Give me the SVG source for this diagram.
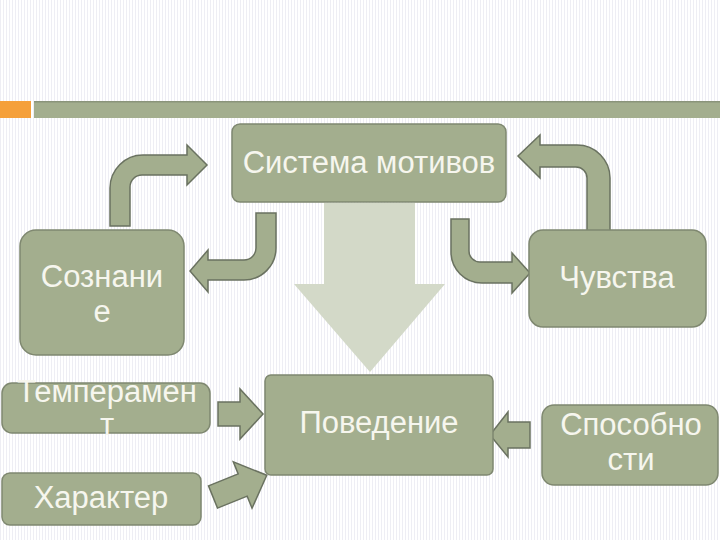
<svg xmlns="http://www.w3.org/2000/svg" width="720" height="540" viewBox="0 0 720 540">
  <defs>
    <pattern id="stripes" width="3" height="10" patternUnits="userSpaceOnUse">
      <rect width="3" height="10" fill="#ffffff"/>
      <rect width="1" height="10" fill="#eeeef4"/>
    </pattern>
    <style>
      .box { fill: #a3ae8e; stroke: #7f8870; stroke-width: 1.5; }
      .arr { fill: #a3ae8e; stroke: #6a7260; stroke-width: 1.5; stroke-linejoin: miter; }
      .big { fill: #d3d9c8; stroke: none; }
      .lbl { font-family: "Liberation Sans", Arial, sans-serif; font-size: 31px; fill: #f6f6ee; text-anchor: middle; }
    </style>
  </defs>

  <rect width="720" height="540" fill="url(#stripes)"/>

  <!-- header bars -->
  <rect x="0" y="101" width="31" height="17" fill="#f5a03a"/>
  <rect x="34" y="101" width="686" height="17" fill="#a3ae8e"/>
  <rect x="34" y="101" width="686" height="1.5" fill="#8a947a"/>

  <!-- connectors -->
  <g id="connectors">
    <!-- big down arrow: Система мотивов -> Поведение -->
    <polygon class="big" points="324,203 415,203 415,284 445,284 370,372 294,284 324,284"/>
    <!-- Сознание -> Система мотивов -->
    <path class="arr" d="M110,226 L110,188 A33,33 0 0 1 143,155 L187,155 L187,145 L207,165 L187,185 L187,175 L142,175 A12,12 0 0 0 130,187 L130,226 Z"/>
    <!-- Система мотивов -> Сознание -->
    <path class="arr" d="M256,213 L276,213 L276,248 A32,32 0 0 1 244,280 L208,280 L208,292 L190,271 L208,250 L208,260 L244,260 A12,12 0 0 0 256,248 Z"/>
    <!-- Система мотивов -> Чувства -->
    <path class="arr" d="M451,219 L469,219 L469,251 A11,11 0 0 0 480,262 L512,262 L512,253 L530,273 L512,293 L512,283 L482,283 A31,31 0 0 1 451,252 Z"/>
    <!-- Чувства -> Система мотивов -->
    <path class="arr" d="M587,231 L587,178 A11,11 0 0 0 576,167 L540,167 L540,178 L518,156 L540,135 L540,145 L577,145 A33,33 0 0 1 610,178 L610,231 Z"/>
    <!-- Темперамент -> Поведение -->
    <polygon class="arr" points="218,402 240,402 240,389 263,414 240,439 240,426 218,426"/>
    <!-- Характер -> Поведение -->
    <polygon class="arr" transform="translate(213,497) rotate(-22)" points="0,-12 32,-12 32,-25 58,0 32,25 32,12 0,12"/>
    <!-- Способности -> Поведение -->
    <polygon class="arr" points="530,422 508,422 508,412 490,435 508,457 508,448 530,448"/>
  </g>

  <g id="node-sistema">
    <rect class="box" x="232" y="124" width="274" height="78" rx="8"/>
    <text class="lbl" x="369" y="173">Система мотивов</text>
  </g>

  <g id="node-soznanie">
    <rect class="box" x="20" y="230" width="164" height="125" rx="16"/>
    <text class="lbl" x="102" y="287">Сознани</text>
    <text class="lbl" x="102" y="322">е</text>
  </g>

  <g id="node-chuvstva">
    <rect class="box" x="529" y="230" width="177" height="97" rx="14"/>
    <text class="lbl" x="617" y="288">Чувства</text>
  </g>

  <g id="node-temperament">
    <rect class="box" x="2" y="383" width="208" height="50" rx="10"/>
    <text class="lbl" x="107" y="402">Темперамен</text>
    <text class="lbl" x="107" y="435">т</text>
  </g>

  <g id="node-harakter">
    <rect class="box" x="2" y="473" width="199" height="52" rx="8"/>
    <text class="lbl" x="101" y="508">Характер</text>
  </g>

  <g id="node-povedenie">
    <rect class="box" x="265" y="375" width="228" height="100" rx="6"/>
    <text class="lbl" x="379" y="433">Поведение</text>
  </g>

  <g id="node-sposobnosti">
    <rect class="box" x="542" y="405" width="176" height="80" rx="12"/>
    <text class="lbl" x="631" y="435">Способно</text>
    <text class="lbl" x="631" y="470">сти</text>
  </g>
</svg>
